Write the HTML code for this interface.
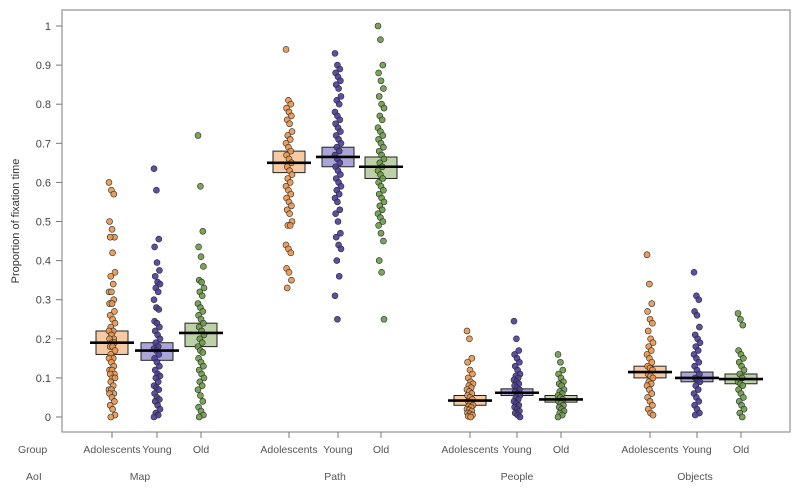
<!DOCTYPE html>
<html><head><meta charset="utf-8"><style>
html,body{margin:0;padding:0;background:#fff}
svg{display:block;font-family:"Liberation Sans",sans-serif}
</style></head><body>
<svg id="chart" width="800" height="491"></svg>
<script>
const aois = ["Map","Path","People","Objects"];
const groups = ["Adolescents","Young","Old"];
const yTicks = [0,0.1,0.2,0.3,0.4,0.5,0.6,0.7,0.8,0.9,1];
const yTickLabels = ["0","0.1","0.2","0.3","0.4","0.5","0.6","0.7","0.8","0.9","1"];
const means = [[0.19,0.17,0.215],[0.65,0.665,0.64],[0.042,0.062,0.045],[0.115,0.10,0.097]];
const boxLow = [[0.16,0.145,0.18],[0.625,0.64,0.61],[0.03,0.055,0.038],[0.10,0.09,0.085]];
const boxHigh = [[0.22,0.19,0.24],[0.68,0.69,0.665],[0.055,0.072,0.055],[0.13,0.115,0.11]];
const pts = [
 [[0.6,0.58,0.57,0.5,0.48,0.46,0.46,0.42,0.37,0.36,0.34,0.32,0.32,0.3,0.29,0.29,0.27,0.26,0.25,0.24,0.23,0.22,0.22,0.21,0.2,0.2,0.19,0.19,0.18,0.18,0.17,0.16,0.15,0.15,0.14,0.13,0.12,0.12,0.11,0.11,0.1,0.1,0.09,0.08,0.07,0.07,0.06,0.06,0.05,0.04,0.03,0.02,0.005,0.0],
  [0.635,0.58,0.455,0.435,0.395,0.375,0.36,0.345,0.34,0.33,0.32,0.3,0.28,0.275,0.245,0.24,0.23,0.22,0.21,0.2,0.19,0.18,0.175,0.17,0.16,0.15,0.14,0.13,0.12,0.11,0.105,0.1,0.09,0.08,0.075,0.07,0.06,0.05,0.045,0.04,0.03,0.02,0.01,0.005,0.0],
  [0.72,0.59,0.475,0.435,0.41,0.385,0.35,0.345,0.33,0.32,0.31,0.29,0.28,0.27,0.26,0.25,0.24,0.23,0.22,0.21,0.2,0.19,0.18,0.17,0.165,0.15,0.14,0.13,0.12,0.11,0.1,0.09,0.08,0.07,0.055,0.04,0.025,0.015,0.005,0.0]],
 [[0.94,0.81,0.8,0.79,0.78,0.77,0.76,0.75,0.73,0.72,0.71,0.7,0.69,0.68,0.67,0.66,0.65,0.64,0.63,0.62,0.61,0.6,0.59,0.58,0.57,0.56,0.55,0.54,0.53,0.52,0.5,0.49,0.49,0.44,0.43,0.42,0.38,0.37,0.35,0.33],
  [0.93,0.9,0.89,0.88,0.87,0.86,0.85,0.84,0.82,0.81,0.8,0.78,0.77,0.76,0.75,0.74,0.73,0.72,0.71,0.7,0.69,0.68,0.67,0.66,0.65,0.64,0.63,0.62,0.61,0.6,0.59,0.58,0.57,0.56,0.55,0.53,0.52,0.5,0.47,0.46,0.44,0.43,0.4,0.36,0.31,0.25],
  [1.0,0.965,0.9,0.88,0.86,0.84,0.82,0.8,0.79,0.77,0.76,0.74,0.73,0.72,0.71,0.7,0.69,0.68,0.67,0.66,0.65,0.64,0.63,0.62,0.61,0.6,0.59,0.58,0.57,0.56,0.55,0.54,0.53,0.52,0.51,0.5,0.49,0.47,0.45,0.4,0.37,0.25]],
 [[0.22,0.2,0.15,0.14,0.12,0.11,0.1,0.09,0.085,0.08,0.075,0.07,0.065,0.06,0.055,0.05,0.045,0.04,0.035,0.03,0.028,0.025,0.02,0.018,0.015,0.01,0.008,0.005,0.002,0.0],
  [0.245,0.2,0.17,0.16,0.15,0.14,0.13,0.12,0.11,0.105,0.1,0.095,0.09,0.085,0.08,0.075,0.07,0.065,0.06,0.055,0.05,0.045,0.04,0.035,0.03,0.025,0.02,0.015,0.01,0.005,0.0],
  [0.16,0.14,0.12,0.11,0.1,0.09,0.085,0.08,0.07,0.065,0.06,0.055,0.05,0.045,0.04,0.035,0.03,0.025,0.02,0.015,0.01,0.005,0.0]],
 [[0.415,0.34,0.29,0.27,0.25,0.24,0.22,0.2,0.19,0.18,0.17,0.16,0.15,0.14,0.13,0.125,0.12,0.11,0.105,0.1,0.09,0.085,0.08,0.07,0.06,0.05,0.04,0.03,0.02,0.01,0.005],
  [0.37,0.31,0.3,0.27,0.26,0.23,0.21,0.2,0.19,0.18,0.17,0.16,0.15,0.14,0.13,0.12,0.11,0.1,0.095,0.09,0.08,0.07,0.06,0.05,0.04,0.03,0.02,0.01,0.005],
  [0.265,0.25,0.235,0.17,0.16,0.15,0.14,0.13,0.12,0.11,0.1,0.09,0.085,0.08,0.07,0.06,0.05,0.04,0.03,0.02,0.01,0.0]]
];
const ns="http://www.w3.org/2000/svg";
const svg=document.getElementById('chart');
const groupX=[[112,157,201],[289,338,381],[470,517,561],[650,697,741]];
const aoiX=[140,335,517,695];
const dotFill=["#e8954c","#4b3d9a","#6c9a48"];
const boxFill=["#f6cba4","#aaa5d6","#bcd1a6"];
function y(v){return 417-v*391;}
function mk(t,a,p){const e=document.createElementNS(ns,t);for(const k in a)e.setAttribute(k,a[k]);(p||svg).appendChild(e);return e;}
const frame=mk('rect',{x:62,y:10,width:728,height:422,fill:'none',stroke:'#999','stroke-width':1.3});


yTicks.forEach((t,i)=>{
 const l=mk('line',{x1:56,x2:62,y1:y(t),y2:y(t),stroke:'#777'});
 
 
 const tx=mk('text',{x:51,y:y(t)+4,'text-anchor':'end','font-size':11,fill:'#444'});
 tx.textContent=yTickLabels[i];
 
 
});
const yt=mk('text',{x:0,y:0,transform:'translate(19,221) rotate(-90)','text-anchor':'middle','font-size':11,fill:'#333'});
yt.textContent='Proportion of fixation time';


const gl=mk('text',{x:18,y:453,'font-size':10.5,fill:'#555'});gl.textContent='Group';


const al=mk('text',{x:26,y:480,'font-size':10.5,fill:'#555'});al.textContent='AoI';


aois.forEach((a,ai)=>{
 const at=mk('text',{x:aoiX[ai],y:480,'text-anchor':'middle','font-size':10.5,fill:'#555'});at.textContent=a;
 
 
 groups.forEach((g,gi)=>{
  const cx=groupX[ai][gi];
  const tk=mk('line',{x1:cx,x2:cx,y1:432,y2:438,stroke:'#777'});
  
  
  const gt=mk('text',{x:cx,y:453,'text-anchor':'middle','font-size':10.5,fill:'#555'});gt.textContent=g;
  
  
  const b=mk('rect',{x:cx-16,y:y(boxHigh[ai][gi]),width:32,height:y(boxLow[ai][gi])-y(boxHigh[ai][gi]),fill:boxFill[gi],stroke:'#222','stroke-width':1});
  
  
  pts[ai][gi].forEach((v,i)=>{
   const j=((i*37)%11-5)*0.6;
   const c=mk('circle',{cx:cx+j,cy:y(v),r:3,fill:dotFill[gi],stroke:'#2a2a2a','stroke-width':0.6,'fill-opacity':0.9});
   
   
  });
  const m=mk('line',{x1:cx-22,x2:cx+22,y1:y(means[ai][gi]),y2:y(means[ai][gi]),stroke:'#000','stroke-width':2.6});
  
  
 });
});
</script>
</body></html>
